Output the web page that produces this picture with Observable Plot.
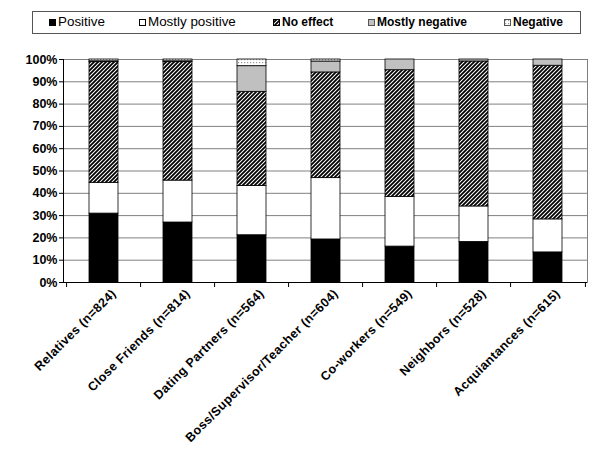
<!DOCTYPE html>
<html><head><meta charset="utf-8">
<script src="https://cdn.jsdelivr.net/npm/d3@7"></script>
<script src="https://cdn.jsdelivr.net/npm/@observablehq/plot@0.6"></script>
<style>
body{margin:0;background:#fff;font-family:"Liberation Sans",Arial,sans-serif;}
#legend{position:relative;width:600px;height:40px;}
#legend .box{position:absolute;left:32px;top:11px;width:549px;height:23px;border:1px solid #555;box-sizing:border-box;}
#legend .item{position:absolute;top:14px;line-height:16px;color:#000;white-space:nowrap;}
#legend .sw{position:absolute;top:19px;}
</style>
</head><body>
<svg width="0" height="0" style="position:absolute">
  <defs>
    <pattern id="hatch" patternUnits="userSpaceOnUse" width="4" height="4">
      <rect width="4" height="4" fill="white"/>
      <path d="M-1,1 L1,-1 M0,4 L4,0 M3,5 L5,3" stroke="black" stroke-width="1.8"/>
    </pattern>
    <pattern id="dots" patternUnits="userSpaceOnUse" width="3" height="3">
      <rect width="3" height="3" fill="white"/>
      <rect x="1" y="1" width="1.2" height="1.2" fill="#999"/>
    </pattern>
  </defs>
</svg>
<div id="legend"><div class="box"></div></div>
<div id="chart"></div>
<script>
const categories = ["Relatives (n=824)", "Close Friends (n=814)", "Dating Partners (n=564)", "Boss/Supervisor/Teacher (n=604)", "Co-workers (n=549)", "Neighbors (n=528)", "Acquiantances (n=615)"];
const series = ["Positive", "Mostly positive", "No effect", "Mostly negative", "Negative"];
const positive       = [30.9, 26.9, 21.2, 19.3, 16.1, 18.2, 13.5];
const mostlyPositive = [13.8, 18.8, 22.1, 27.5, 22.2, 15.9, 14.8];
const noEffect       = [54.1, 53.1, 42.2, 47.4, 56.9, 65.0, 68.9];
const mostlyNegative = [0.4, 0.4, 11.5, 4.9, 4.8, 0.9, 2.8];
const negative       = [0.8, 0.8, 3.0, 0.9, 0, 0, 0];
const yTicks = [0, 10, 20, 30, 40, 50, 60, 70, 80, 90, 100];

const seriesValues = [positive, mostlyPositive, noEffect, mostlyNegative, negative];
const fills = ["black", "white", "url(#hatch)", "#c0c0c0", "url(#dots)"];

const table = [];
categories.forEach((c, i) => {
  series.forEach((s, j) => {
    const v = seriesValues[j][i];
    if (v > 0) table.push({category: c, series: s, value: v});
  });
});

// legend
const legendLeft = [49, 139, 273, 368, 504];
const legendWeight = ["normal", "normal", "bold", "bold", "bold"];
const legendSize = [13.4, 13.4, 12, 12, 12];
const legend = document.getElementById("legend");
series.forEach((s, j) => {
  const sw = document.createElementNS("http://www.w3.org/2000/svg", "svg");
  sw.setAttribute("class", "sw");
  sw.setAttribute("width", "8");
  sw.setAttribute("height", "8");
  sw.style.left = legendLeft[j] + "px";
  sw.innerHTML = `<rect x="0.5" y="0.5" width="6" height="6" fill="${fills[j]}" stroke="${j === 3 || j === 4 ? '#555' : 'black'}" stroke-width="1"/>`;
  legend.appendChild(sw);
  const t = document.createElement("div");
  t.className = "item";
  t.style.left = (legendLeft[j] + 9) + "px";
  t.style.fontWeight = legendWeight[j];
  t.style.fontSize = legendSize[j] + "px";
  t.textContent = s;
  legend.appendChild(t);
});

const W = 600, ML = 63, MR = 13;
const step = (W - ML - MR) / categories.length;

const chart = Plot.plot({
  width: W,
  height: 410,
  marginTop: 19,
  marginBottom: 168,
  marginLeft: ML,
  marginRight: MR,
  style: {fontFamily: "Liberation Sans, Arial, sans-serif", fontWeight: "bold", fontSize: "12px", background: "white", overflow: "visible"},
  x: {domain: categories, paddingInner: 0.61, paddingOuter: 0.305, label: null},
  y: {domain: [0, 100], label: null},
  color: {domain: series, range: fills},
  marks: [
    Plot.gridY(yTicks, {stroke: "#808080", strokeOpacity: 1}),
    Plot.frame({stroke: "#808080"}),
    Plot.barY(table, {x: "category", y: "value", fill: "series", order: series, stroke: "black", strokeWidth: 0.8}),
    Plot.ruleY([0], {stroke: "black"}),
    Plot.frame({anchor: "left", stroke: "black"}),
    Plot.ruleX(categories, {x: d => d, y1: 0, y2: 0, dx: -step / 2, insetBottom: -5, stroke: "black"}),
    Plot.ruleX([categories[categories.length - 1]], {x: d => d, y1: 0, y2: 0, dx: step / 2, insetBottom: -5, stroke: "black"}),
    Plot.axisY({ticks: yTicks, tickFormat: d => d + "%", tickSize: 4, tickPadding: 2, fontSize: 12.5, fontWeight: "bold", label: null}),
    Plot.axisX({tickSize: 0, tickRotate: -45, tickPadding: 9, dx: 10, fontSize: 12.5, fontWeight: "bold", label: null})
  ]
});
d3.select(chart).selectAll('[aria-label="x-axis tick label"] text').style("letter-spacing", "0.4px");
document.getElementById("chart").appendChild(chart);
</script>
</body></html>
